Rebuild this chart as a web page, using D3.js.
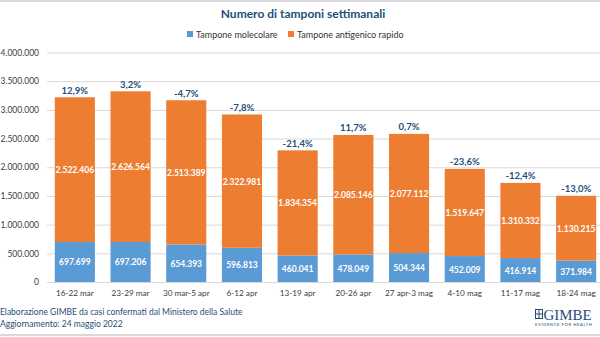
<!DOCTYPE html>
<html lang="it">
<head>
<meta charset="UTF-8">
<title>Numero di tamponi settimanali</title>
<script src="https://d3js.org/d3.v7.min.js"></script>
<style>
  body { margin: 0; background: #fff; }
  svg { display: block; font-family: Lato, "Open Sans", sans-serif; }
</style>
</head>
<body>
<svg id="chart"></svg>
<script>
// weekly swabs, by type
const settimane = ["16-22 mar", "23-29 mar", "30 mar-5 apr", "6-12 apr", "13-19 apr",
                   "20-26 apr", "27 apr-3 mag", "4-10 mag", "11-17 mag", "18-24 mag"];
const molecolari = [697699, 697206, 654393, 596813, 460041, 478049, 504344, 452009, 416914, 371984];
const antigenici = [2522406, 2626564, 2513389, 2322981, 1834354, 2085146, 2077112, 1519647, 1310332, 1130215];
const variazioni = ["12,9%", "3,2%", "-4,7%", "-7,8%", "-21,4%", "11,7%", "0,7%", "-23,6%", "-12,4%", "-13,0%"];
const yTicks = [0, 500000, 1000000, 1500000, 2000000, 2500000, 3000000, 3500000, 4000000];

const W = 600, H = 337;
const BLUE = "#5b9bd5", ORANGE = "#ed7d31", NAVY = "#1f4e79";

const svg = d3.select("#chart").attr("width", W).attr("height", H);

const fmt = d3.formatLocale({ decimal: ",", thousands: ".", grouping: [3], currency: ["€", ""] }).format(",d");

const x = d3.scaleBand().domain(settimane).range([47, 604]).paddingInner(0.28).paddingOuter(0.14);
const y = d3.scaleLinear().domain([0, 4000000]).range([282, 52.5]);

// frame lines top and bottom
svg.append("line").attr("x1", 0).attr("x2", W).attr("y1", 1).attr("y2", 1).attr("stroke", "#d9d9d9").attr("stroke-width", 2);
svg.append("line").attr("x1", 0).attr("x2", W).attr("y1", 335).attr("y2", 335).attr("stroke", "#d9d9d9").attr("stroke-width", 2);

// title
svg.append("text").attr("x", 303).attr("y", 18).attr("text-anchor", "middle")
  .attr("font-size", 12).attr("font-weight", "bold").attr("fill", NAVY)
  .text("Numero di tamponi settimanali");

// legend
const legend = [["Tampone molecolare", BLUE, 187], ["Tampone antigenico rapido", ORANGE, 288]];
legend.forEach(([name, col, lx]) => {
  svg.append("rect").attr("x", lx).attr("y", 31).attr("width", 6).attr("height", 6).attr("fill", col);
  svg.append("text").attr("x", lx + 9).attr("y", 37.5).attr("font-size", 9).attr("fill", "#333").text(name);
});

// gridlines + y axis
const yAxis = d3.axisLeft(y).tickValues(yTicks).tickSize(-(W - 47)).tickFormat(fmt);
const gy = svg.append("g").attr("transform", "translate(47,0)").call(yAxis);
gy.select(".domain").remove();
gy.selectAll(".tick line").attr("stroke", "#d9d9d9");
gy.selectAll(".tick text").attr("x", -8).attr("font-size", 8.5).attr("fill", "#404040").attr("font-family", "Lato, sans-serif");

// x axis labels
const xAxis = d3.axisBottom(x).tickSize(0).tickPadding(8);
const gx = svg.append("g").attr("transform", "translate(0,282)").call(xAxis);
gx.select(".domain").remove();
gx.selectAll(".tick text").attr("font-size", 8.2).attr("fill", "#404040").attr("font-family", "Lato, sans-serif");

const rows = settimane.map((s, i) => ({ s, m: molecolari[i], a: antigenici[i], v: variazioni[i] }));

const bars = svg.append("g").selectAll("g").data(rows).join("g");

bars.append("rect").attr("x", d => x(d.s)).attr("width", x.bandwidth())
  .attr("y", d => y(d.m)).attr("height", d => y(0) - y(d.m)).attr("fill", BLUE);
bars.append("rect").attr("x", d => x(d.s)).attr("width", x.bandwidth())
  .attr("y", d => y(d.m + d.a)).attr("height", d => y(d.m) - y(d.m + d.a)).attr("fill", ORANGE);

// value labels inside segments
bars.append("text").attr("x", d => x(d.s) + x.bandwidth() / 2).attr("y", d => y(d.m / 2) + 3.5)
  .attr("text-anchor", "middle").attr("font-size", 8.5).attr("font-weight", "bold").attr("fill", "#fff")
  .text(d => fmt(d.m));
bars.append("text").attr("x", d => x(d.s) + x.bandwidth() / 2).attr("y", d => y(d.m + d.a / 2) + 3.5)
  .attr("text-anchor", "middle").attr("font-size", 8.5).attr("font-weight", "bold").attr("fill", "#fff")
  .text(d => fmt(d.a));

// weekly change above each bar
bars.append("text").attr("x", d => x(d.s) + x.bandwidth() / 2).attr("y", d => y(d.m + d.a) - 3.5)
  .attr("text-anchor", "middle").attr("font-size", 9.5).attr("font-weight", "bold").attr("fill", NAVY)
  .text(d => d.v);

// source note
svg.append("text").attr("x", 0).attr("y", 315).attr("font-size", 8.5).attr("fill", NAVY)
  .text("Elaborazione GIMBE da casi confermati dal Ministero della Salute");
svg.append("text").attr("x", 0).attr("y", 326.5).attr("font-size", 8.5).attr("fill", NAVY)
  .text("Aggiornamento: 24 maggio 2022");

// logo
const logo = svg.append("g").attr("transform", "translate(535,309)");
logo.append("rect").attr("x", 0).attr("y", 0).attr("width", 8).attr("height", 10).attr("fill", NAVY);
[[1, 1], [4.5, 1], [1, 5.5], [4.5, 5.5]].forEach(([px, py]) => {
  logo.append("rect").attr("x", px).attr("y", py).attr("width", 2.5).attr("height", 3.5).attr("fill", "#fff");
});
logo.append("text").attr("x", 8.5).attr("y", 10.5).attr("font-family", "'Liberation Serif', 'DejaVu Serif', serif")
  .attr("font-size", 14).attr("fill", NAVY).attr("textLength", 48).attr("lengthAdjust", "spacingAndGlyphs").text("GIMBE");
logo.append("text").attr("x", 0).attr("y", 17).attr("font-size", 4.2).attr("fill", NAVY)
  .attr("textLength", 57).attr("lengthAdjust", "spacing").text("EVIDENCE FOR HEALTH");
</script>
</body>
</html>
